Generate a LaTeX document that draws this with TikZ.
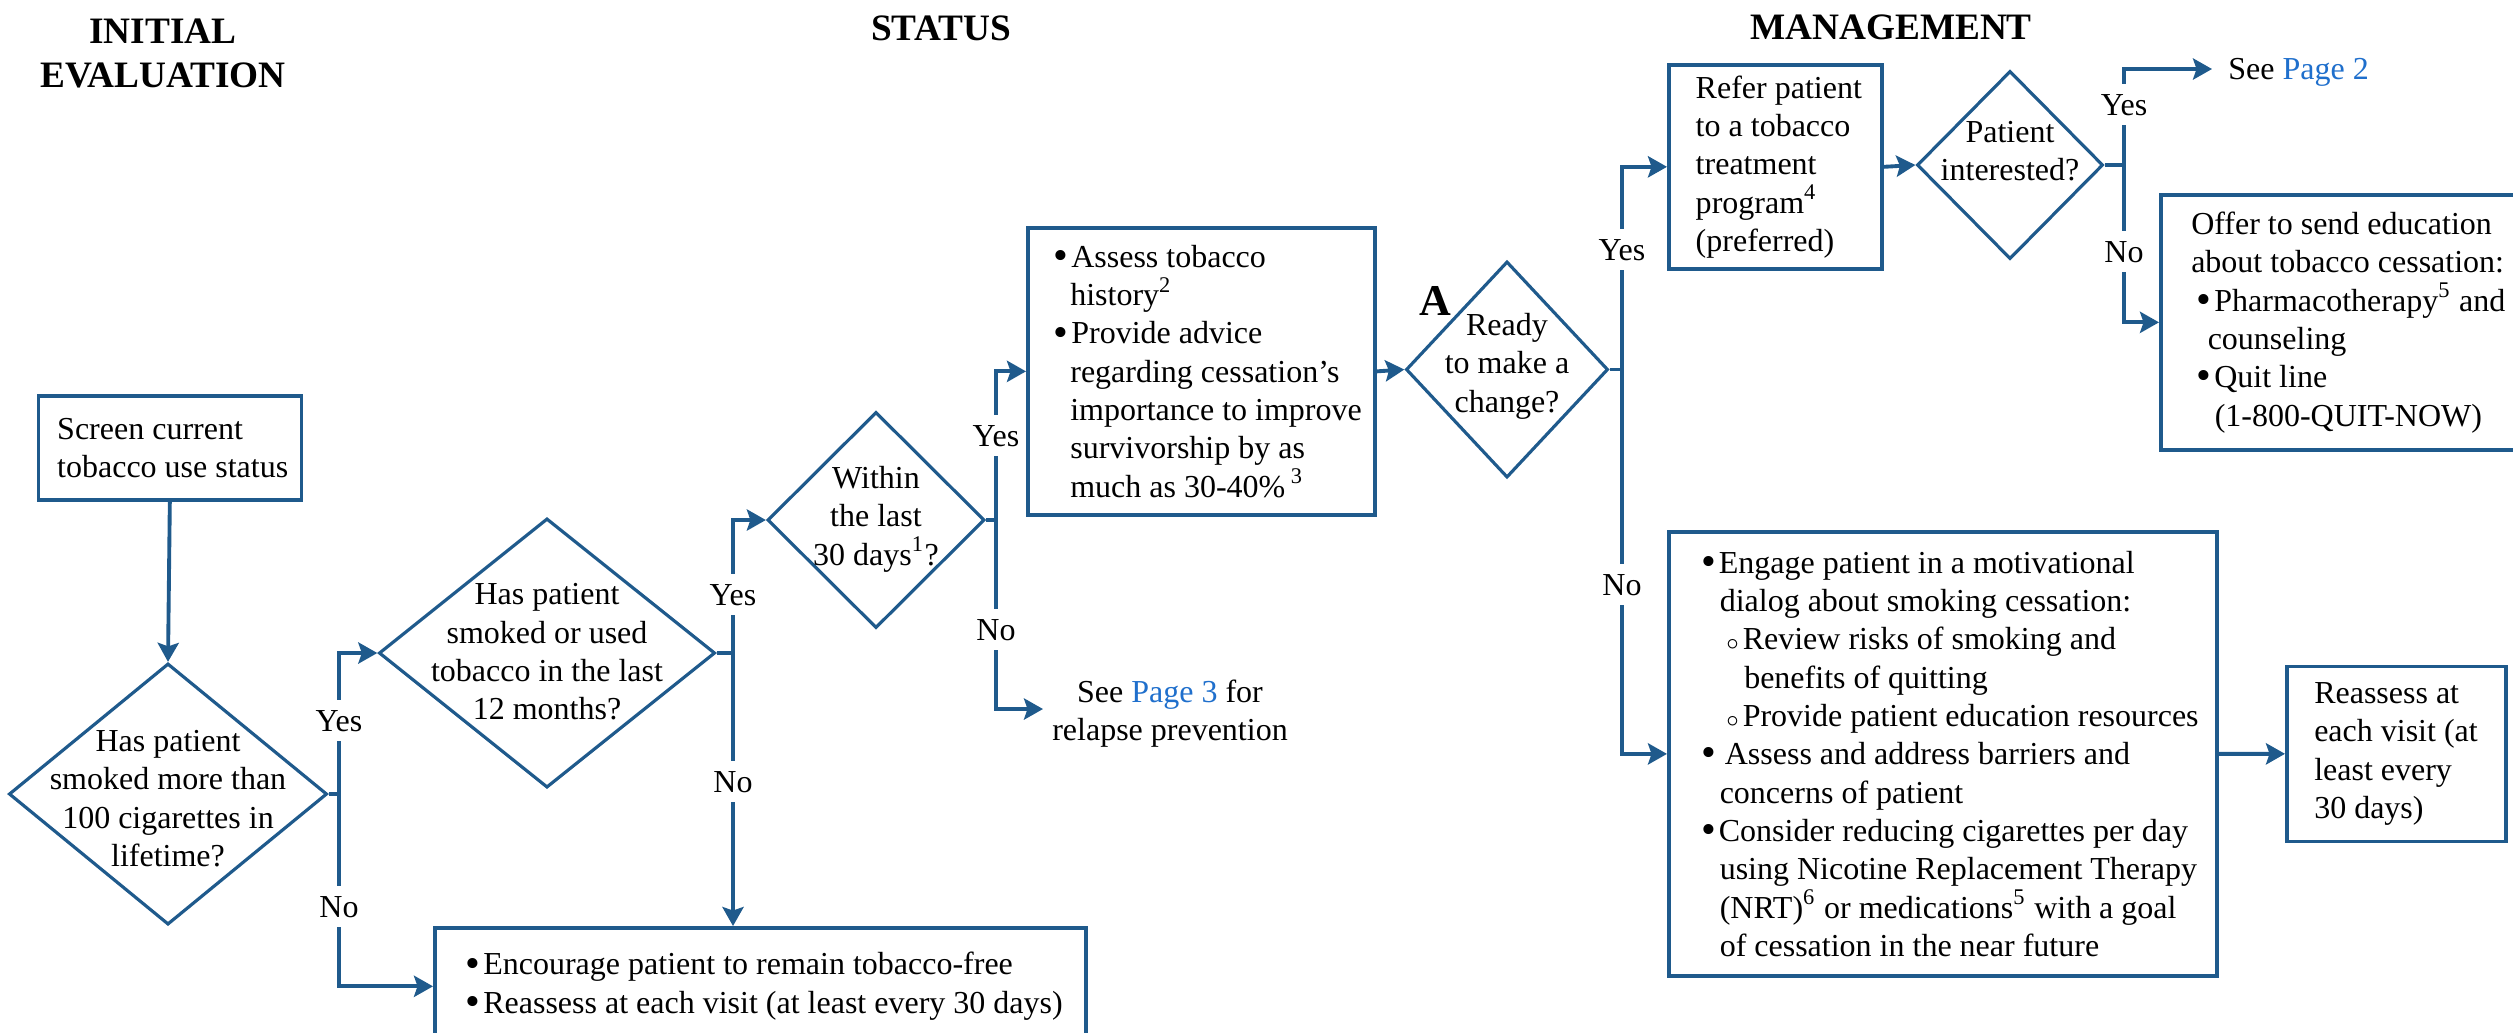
\documentclass[tikz,border=0pt]{standalone}
\usepackage{fontspec}
\setmainfont{Liberation Serif}
\usepackage{tikz}
\usetikzlibrary{shapes.geometric,arrows.meta}
\definecolor{FlowBlue}{HTML}{1F5A8C}
\definecolor{LinkBlue}{HTML}{1F6FCC}
\newcommand{\Bul}{\raisebox{-0.6pt}{\fontsize{12pt}{0pt}\selectfont\textbullet}\hspace{0.8pt}}
\newcommand{\Sub}{$\scriptstyle\circ$\hspace{1pt}}

\begin{document}
\begin{tikzpicture}[x=0.01cm,y=-0.01cm,
  every node/.style={font=\fontsize{9.1pt}{10.9pt}\selectfont, inner sep=0pt},
  box/.style={draw=FlowBlue, line width=1pt, rectangle, anchor=north west},
  decision/.style={draw=FlowBlue, line width=0.9pt, shape=diamond},
  boxtext/.style={align=left, anchor=west},
  qtext/.style={align=center},
  head/.style={font=\fontsize{10.6pt}{12.5pt}\selectfont\bfseries, align=center},
  branch/.style={fill=white, inner xsep=0.03cm, inner ysep=0.1cm, anchor=base},
  flow/.style={draw=FlowBlue, line width=1.1pt, -{Stealth[length=5.4pt,width=6pt,inset=1pt]}}]
  \useasboundingbox (0,0) rectangle (2513,1032);
  \clip (0,0) rectangle (2513,1032);

  \node[head] (h-init) at (163,53.5) {INITIAL\\EVALUATION};
  \node[head, anchor=base] (h-status) at (941,40) {STATUS};
  \node[head, anchor=base] (h-manage) at (1891,39) {MANAGEMENT};

  \node[box, minimum width=2.63cm, minimum height=1.04cm] (screen) at (36.5,394) {};
  \node[boxtext] (screen-t) at ([xshift=0.2cm]screen.west) {Screen current\\tobacco use status};

  \node[decision, minimum width=3.18cm, minimum height=2.61cm] (smoked) at (168,794) {};
  \node[qtext] (smoked-t) at (168,798.5) {Has patient\\smoked more than\\100 cigarettes in\\lifetime?};
  \node[decision, minimum width=3.36cm, minimum height=2.69cm] (recent) at (547,653) {};
  \node[qtext] (recent-t) at (547,651.8) {Has patient\\smoked or used\\tobacco in the last\\12 months?};
  \node[decision, minimum width=2.17cm, minimum height=2.16cm] (month) at (876,520) {};
  \node[qtext] (month-t) at (876,519) {Within\\the last\\30 days\textsuperscript{1}?};

  \node[box, minimum width=6.51cm, minimum height=1.17cm] (keep) at (433,926) {};
  \node[boxtext] (keep-t) at ([xshift=0.32cm]keep.west) {\Bul Encourage patient to remain tobacco-free\\\Bul Reassess at each visit (at least every 30 days)};

  \node[box, minimum width=3.47cm, minimum height=2.87cm] (assess) at (1026,226) {};
  \node[boxtext] (assess-t) at ([xshift=0.27cm]assess.west) {\Bul Assess tobacco\\\hspace*{0.166cm}history\textsuperscript{2}\\\Bul Provide advice\\\hspace*{0.166cm}regarding cessation’s\\\hspace*{0.166cm}importance to improve\\\hspace*{0.166cm}survivorship by as\\\hspace*{0.166cm}much as 30-40\%\,\textsuperscript{3}};
  \coordinate (p3) at (1043,709);
  \node[qtext] (relapse) at (1170,713.5) {See \textcolor{LinkBlue}{Page 3} for\\relapse prevention};

  \node[decision, minimum width=2.02cm, minimum height=2.16cm] (ready) at (1507,369.5) {};
  \node[qtext] (ready-t) at (1507,366) {Ready\\to make a\\change?};
  \node[font=\fontsize{12.5pt}{14pt}\selectfont\bfseries, anchor=base] (mark-a) at (1435.5,315) {A};

  \node[box, minimum width=2.13cm, minimum height=2.04cm] (refer) at (1667,63) {};
  \node[boxtext] (refer-t) at ([xshift=0.28cm]refer.west) {Refer patient\\to a tobacco\\treatment\\program\textsuperscript{4}\\(preferred)};
  \node[decision, minimum width=1.86cm, minimum height=1.88cm] (interest) at (2010,165) {};
  \node[qtext] (interest-t) at (2010,151) {Patient\\interested?};
  \coordinate (p2) at (2212,69);
  \node[anchor=base west] (page2) at (2227.7,79) {See \textcolor{LinkBlue}{Page 2}};

  \node[box, minimum width=3.61cm, minimum height=2.55cm] (offer) at (2159,193) {};
  \node[boxtext] (offer-t) at ([xshift=0.315cm]offer.west) {Offer to send education\\about tobacco cessation:\\\hspace*{0.055cm}\Bul Pharmacotherapy\textsuperscript{5} and\\\hspace*{0.165cm}counseling\\\hspace*{0.055cm}\Bul Quit line\\\hspace*{0.235cm}(1-800-QUIT-NOW)};

  \node[box, minimum width=5.48cm, minimum height=4.44cm] (engage) at (1667,530) {};
  \node[boxtext] (engage-t) at ([xshift=0.335cm]engage.west) {\Bul Engage patient in a motivational\\\hspace*{0.185cm}dialog about smoking cessation:\\\hspace*{0.245cm}\Sub Review risks of smoking and\\\hspace*{0.43cm}benefits of quitting\\\hspace*{0.245cm}\Sub Provide patient education resources\\\Bul\hspace{0.06cm}Assess and address barriers and\\\hspace*{0.185cm}concerns of patient\\\Bul Consider reducing cigarettes per day\\\hspace*{0.185cm}using Nicotine Replacement Therapy\\\hspace*{0.185cm}(NRT)\textsuperscript{6} or medications\textsuperscript{5} with a goal\\\hspace*{0.185cm}of cessation in the near future};

  \node[box, minimum width=2.19cm, minimum height=1.75cm] (reassess) at (2285,664.5) {};
  \node[boxtext] (reassess-t) at ([xshift=0.285cm]reassess.west) {Reassess at\\each visit (at\\least every\\30 days)};

  \coordinate (j-smoked) at (339,794);
  \coordinate (j-recent) at (733,653);
  \coordinate (j-month) at (996,520);
  \coordinate (j-ready) at (1622,369.5);
  \coordinate (j-interest) at (2124,165);

  \draw[flow] (screen.south) -- (smoked.north);
  \draw[flow] (smoked.east) -- (j-smoked) |- (recent.west);
  \draw[flow] (j-smoked) |- (keep.west);
  \draw[flow] (recent.east) -- (j-recent) |- (month.west);
  \draw[flow] (j-recent) -- (j-recent |- keep.north);
  \draw[flow] (month.east) -- (j-month) |- (assess.west);
  \draw[flow] (j-month) |- (p3);
  \draw[flow] (assess.east) -- (ready.west);
  \draw[flow] (ready.east) -- (j-ready) |- (refer.west);
  \draw[flow] (j-ready) |- (engage.west);
  \draw[flow] (refer.east) -- (interest.west);
  \draw[flow] (interest.east) -- (j-interest) |- (p2);
  \draw[flow] (j-interest) |- (offer.west);
  \draw[flow] (engage.east) -- (reassess.west);

  \foreach \x/\y/\lbl [count=\i] in {339/731/Yes, 339/917/No, 733/605/Yes, 733/792/No, 996/446/Yes, 996/640/No, 1622/260/Yes, 1622/595/No, 2124/115/Yes, 2124/262/No}
    \node[branch] (br\i) at (\x,\y) {\lbl};
\end{tikzpicture}
\end{document}
